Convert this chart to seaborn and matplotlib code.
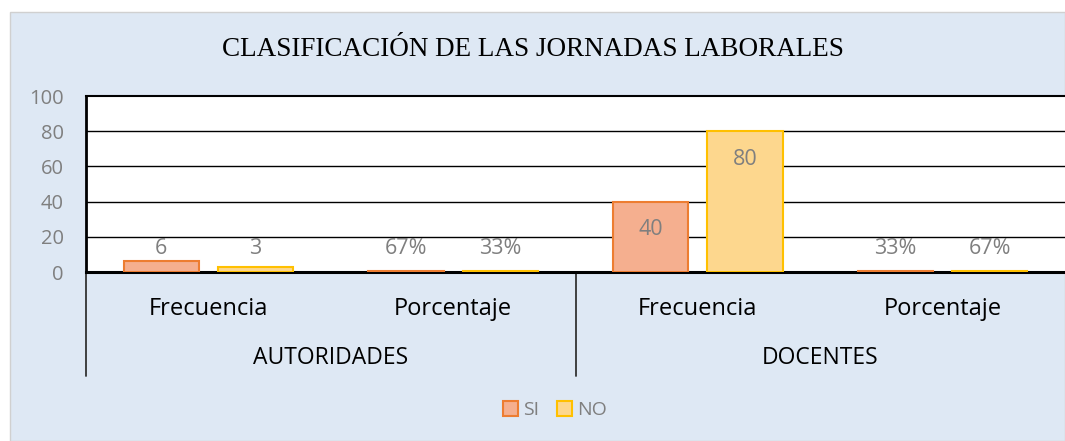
import matplotlib
matplotlib.use("Agg")
import matplotlib.pyplot as plt
import matplotlib.transforms as mtransforms
from matplotlib.patches import Rectangle, Patch
from matplotlib.lines import Line2D
import pandas as pd
import seaborn as sns

# ---------------------------------------------------------------------------
# Datos
# ---------------------------------------------------------------------------
grupos = ["AUTORIDADES", "AUTORIDADES", "DOCENTES", "DOCENTES"]
medidas = ["Frecuencia", "Porcentaje", "Frecuencia", "Porcentaje"]
valores_si = [6, 0.67, 40, 0.33]
valores_no = [3, 0.33, 80, 0.67]
etiquetas_si = ["6", "67%", "40", "33%"]
etiquetas_no = ["3", "33%", "80", "67%"]
series = ["SI", "NO"]
titulo = "CLASIFICACIÓN DE LAS JORNADAS LABORALES"

# Paleta
FONDO = "#DEE8F4"
GRIS_TEXTO = "#7F7F7F"
RELLENO = {"SI": "#F5AF8F", "NO": "#FDD78E"}
BORDE = {"SI": "#ED7D31", "NO": "#FFC000"}

cats = [f"{g}|{m}" for g, m in zip(grupos, medidas)]
df = pd.DataFrame({
    "cat": cats * 2,
    "serie": ["SI"] * 4 + ["NO"] * 4,
    "valor": valores_si + valores_no,
})

sns.set_style("white")
plt.rcParams["font.family"] = ["Open Sans", "DejaVu Sans"]

fig = plt.figure(figsize=(10.65, 4.41), dpi=100, facecolor="white")
fig.add_artist(Rectangle((10 / 1065, 0), 1 - 10 / 1065, 1 - 12 / 441,
                         transform=fig.transFigure, facecolor=FONDO,
                         edgecolor="#D0D0D0", linewidth=1, zorder=-1))
ax = fig.add_axes([86 / 1065, 1 - 272 / 441, 1 - 86 / 1065, 176 / 441])
ax.set_facecolor("white")

sns.barplot(data=df, x="cat", y="valor", hue="serie", order=cats,
            hue_order=series, palette=RELLENO, saturation=1, width=0.77,
            gap=0.2, linewidth=1.5, ax=ax, legend=False, zorder=3)

for cont, serie, etiquetas, vals in zip(ax.containers, series,
                                        [etiquetas_si, etiquetas_no],
                                        [valores_si, valores_no]):
    for barra, txt, v in zip(cont, etiquetas, vals):
        barra.set_edgecolor(BORDE[serie])
        cx = barra.get_x() + barra.get_width() / 2
        y = v - 16 if v >= 20 else 13.6
        ax.text(cx, y, txt, ha="center", va="center", fontsize=15.5,
                color=GRIS_TEXTO, zorder=5)

ax.set_ylim(0, 100)
ax.set_xlim(-0.5, 3.5)
ax.set_yticks([0, 20, 40, 60, 80, 100])
ax.tick_params(axis="y", labelsize=14.5, labelcolor=GRIS_TEXTO, length=0, pad=16)
ax.set_xticks([])
ax.set_xlabel("")
ax.set_ylabel("")
for y in [20, 40, 60, 80]:
    ax.axhline(y, color="black", linewidth=1, zorder=1)
ax.spines["right"].set_visible(False)
ax.spines["left"].set_linewidth(2)
ax.spines["top"].set_linewidth(1.5)
ax.spines["bottom"].set_linewidth(2.2)
for s in ["left", "top", "bottom"]:
    ax.spines[s].set_color("black")

# Etiquetas de eje en dos niveles
trans = mtransforms.blended_transform_factory(ax.transData, ax.transAxes)
for i, m in enumerate(medidas):
    ax.text(i, -0.21, m, transform=trans, ha="center", va="center",
            fontsize=17, color="black")
for nombre, pos in [("AUTORIDADES", 0.5), ("DOCENTES", 2.5)]:
    ax.text(pos, -0.49, nombre, transform=trans, ha="center", va="center",
            fontsize=16.5, color="black")
for xs in [-0.5, 1.5]:
    ax.add_line(Line2D([xs, xs], [0, -0.59], transform=trans, color="#333333",
                       linewidth=1.3, clip_on=False))

fig.text(0.5, 1 - 50 / 441, titulo, ha="center", va="center", fontsize=19.5,
         family="Liberation Serif", color="black")

manejadores = [Patch(facecolor=RELLENO[s], edgecolor=BORDE[s], linewidth=1.5,
                     label=s) for s in series]
leg = fig.legend(handles=manejadores, loc="center", ncol=2,
                 bbox_to_anchor=(555 / 1065, 1 - 410 / 441), frameon=False,
                 fontsize=14, handlelength=0.8, handleheight=0.8,
                 handletextpad=0.25, columnspacing=0.9)
for t in leg.get_texts():
    t.set_color(GRIS_TEXTO)

fig.savefig("out.png", dpi=100, facecolor="white")
